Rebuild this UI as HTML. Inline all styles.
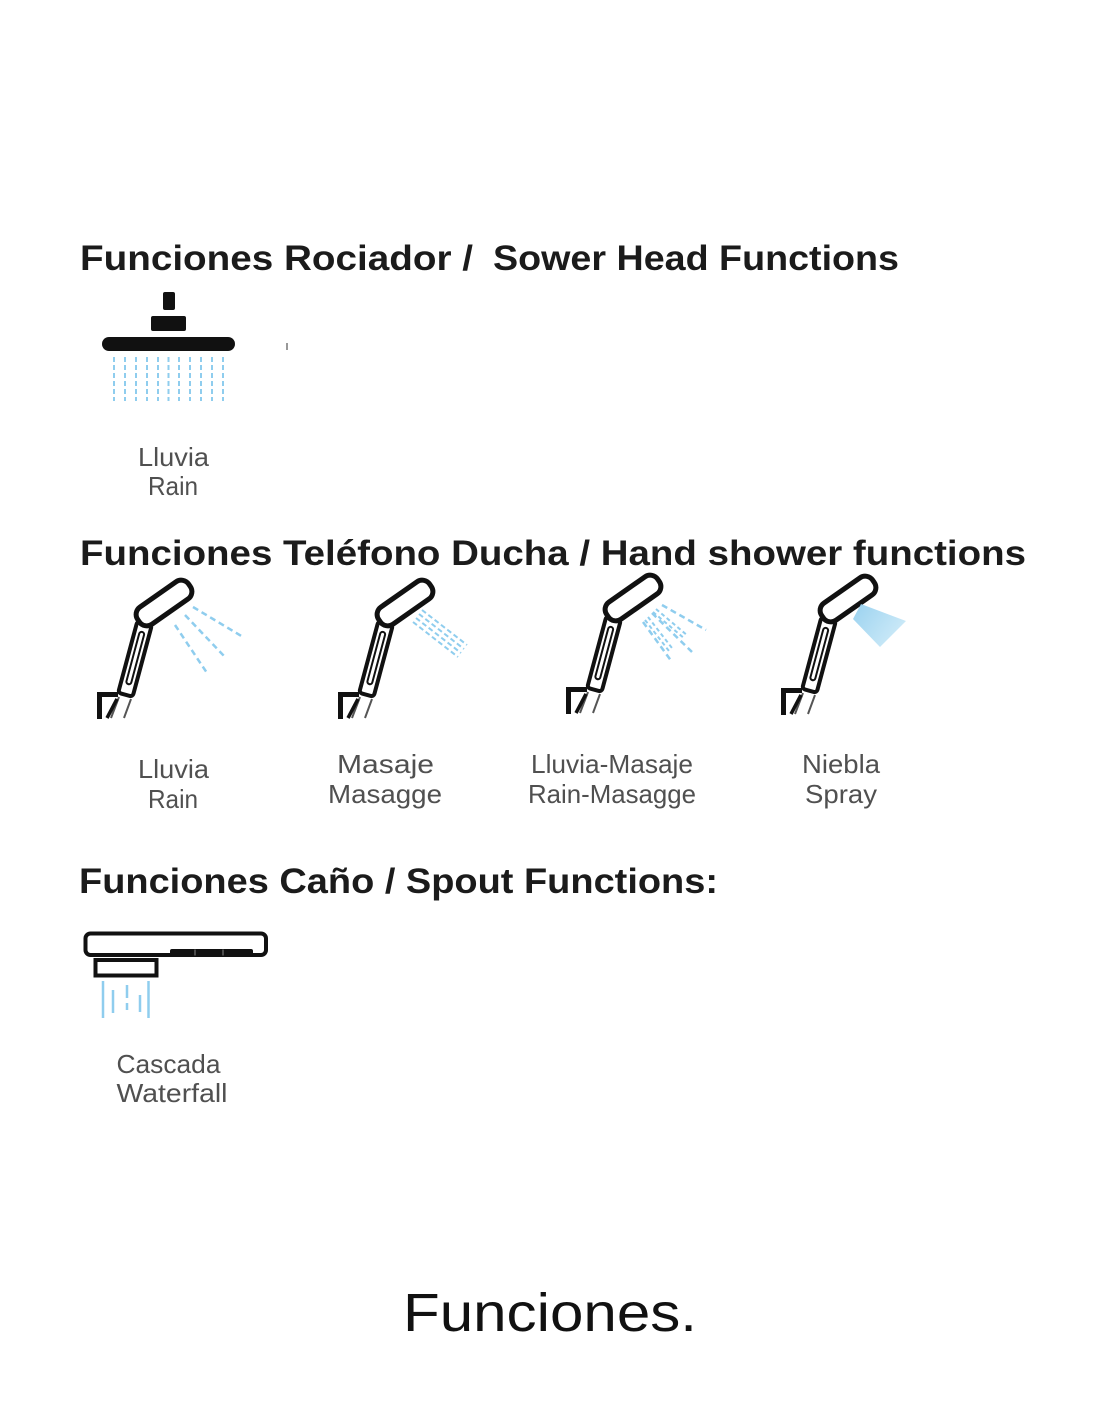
<!DOCTYPE html>
<html>
<head>
<meta charset="utf-8">
<style>
  html,body{margin:0;padding:0;background:#fff;}
  svg{display:block;}
  .h{font-family:"Liberation Sans",Arial,sans-serif;font-weight:bold;font-size:35px;fill:#1b1b1b;}
  .l{font-family:"Liberation Sans",Arial,sans-serif;font-size:26px;fill:#505050;}
  .w{stroke:#8fcdee;fill:none;}
</style>
</head>
<body>
<svg width="1100" height="1422" viewBox="0 0 1100 1422" xmlns="http://www.w3.org/2000/svg">
  <defs>
    <g id="hs">
      <!-- handle -->
      <rect x="-7.5" y="-37" width="15" height="74" rx="3" fill="#fff" stroke="#111" stroke-width="4" transform="translate(135,659) rotate(15)"/>
      <rect x="-2.5" y="-28" width="5" height="54" rx="2.5" fill="none" stroke="#111" stroke-width="2" transform="translate(135,659) rotate(15)"/>
      <!-- head -->
      <rect x="-31" y="-10.5" width="62" height="21" rx="9" fill="#fff" stroke="#111" stroke-width="5" transform="translate(164,603) rotate(-35)"/>
      <!-- lower neck -->
      <path d="M119,697 L111,718 M131,699 L124,718" stroke="#555" stroke-width="2" fill="none"/>
      <!-- bracket -->
      <path d="M99.5,719 V694.5 H118" fill="none" stroke="#111" stroke-width="5"/>
      <path d="M117,699 L107,718" stroke="#111" stroke-width="3.5" fill="none"/>
    </g>
    <linearGradient id="mist" x1="0" y1="0" x2="1" y2="0.6">
      <stop offset="0" stop-color="#8fcdee"/>
      <stop offset="1" stop-color="#c8e8f7"/>
    </linearGradient>
  </defs>

  <!-- Heading 1 -->
  <text class="h" x="80" y="270" textLength="393" lengthAdjust="spacingAndGlyphs">Funciones Rociador /</text>
  <text class="h" x="493" y="270" textLength="406" lengthAdjust="spacingAndGlyphs">Sower Head Functions</text>

  <!-- Shower head -->
  <rect x="163" y="292" width="12" height="18" rx="2" fill="#111"/>
  <rect x="151" y="316" width="35" height="15" rx="2" fill="#111"/>
  <rect x="102" y="337" width="133" height="14" rx="7" fill="#111"/>
  <g class="w" stroke-width="2" stroke-dasharray="5 3" stroke="#a6d8f0">
    <path d="M114,357V401M125,357V401M136,357V401M147,357V401M158,357V401M168.5,357V401M179,357V401M190,357V401M201,357V401M212,357V401M223,357V401"/>
  </g>
  <path d="M287,343V350" stroke="#777" stroke-width="1.5"/>
  <text class="l" x="173.5" y="466" text-anchor="middle" textLength="71" lengthAdjust="spacingAndGlyphs">Lluvia</text>
  <text class="l" x="173" y="495" text-anchor="middle" textLength="50" lengthAdjust="spacingAndGlyphs">Rain</text>

  <!-- Heading 2 -->
  <text class="h" x="80" y="565" textLength="946" lengthAdjust="spacingAndGlyphs">Funciones Teléfono Ducha / Hand shower functions</text>

  <!-- HS1 -->
  <use href="#hs"/>
  <g class="w" stroke-width="2.5" stroke-dasharray="6 4">
    <path d="M193,607 L243,637"/>
    <path d="M185,615 L225,657"/>
    <path d="M175,625 L207,673"/>
  </g>
  <text class="l" x="173.5" y="778" text-anchor="middle" textLength="71" lengthAdjust="spacingAndGlyphs">Lluvia</text>
  <text class="l" x="173" y="808" text-anchor="middle" textLength="50" lengthAdjust="spacingAndGlyphs">Rain</text>

  <!-- HS2 -->
  <use href="#hs" transform="translate(241,0)"/>
  <g class="w" stroke-width="2" stroke-dasharray="5 3">
    <path d="M422,610 L467,645"/>
    <path d="M419,614 L464,649"/>
    <path d="M416,618 L461,653"/>
    <path d="M413,622 L458,657"/>
  </g>
  <text class="l" x="385.5" y="773" text-anchor="middle" textLength="97" lengthAdjust="spacingAndGlyphs">Masaje</text>
  <text class="l" x="385" y="803" text-anchor="middle" textLength="114" lengthAdjust="spacingAndGlyphs">Masagge</text>

  <!-- HS3 -->
  <use href="#hs" transform="translate(469,-5)"/>
  <g class="w" stroke-width="2.5" stroke-dasharray="6 4">
    <path d="M662,605 L706,630"/>
    <path d="M652,613 L692,652"/>
    <path d="M643,622 L672,662"/>
  </g>
  <g class="w" stroke-width="2" stroke-dasharray="4 3">
    <path d="M656,609 L688,636"/>
    <path d="M653,612 L685,639"/>
    <path d="M648,617 L672,648"/>
    <path d="M645,620 L669,651"/>
  </g>
  <text class="l" x="612" y="773" text-anchor="middle" textLength="162" lengthAdjust="spacingAndGlyphs">Lluvia-Masaje</text>
  <text class="l" x="612" y="803" text-anchor="middle" textLength="168" lengthAdjust="spacingAndGlyphs">Rain-Masagge</text>

  <!-- HS4 -->
  <use href="#hs" transform="translate(684,-4)"/>
  <polygon points="861,604 906,621 880,647 853,619" fill="url(#mist)" opacity="0.9"/>
  <text class="l" x="841" y="773" text-anchor="middle" textLength="78" lengthAdjust="spacingAndGlyphs">Niebla</text>
  <text class="l" x="841" y="803" text-anchor="middle" textLength="72" lengthAdjust="spacingAndGlyphs">Spray</text>

  <!-- Heading 3 -->
  <text class="h" x="79" y="893" textLength="639" lengthAdjust="spacingAndGlyphs">Funciones Caño / Spout Functions:</text>

  <!-- Spout -->
  <rect x="85.5" y="933.5" width="180.5" height="21.5" rx="5" fill="none" stroke="#111" stroke-width="4"/>
  <rect x="170" y="949" width="83" height="7" rx="2" fill="#111"/>
  <path d="M195,949.5V955.5M223,949.5V955.5" stroke="#888" stroke-width="1"/>
  <rect x="95.5" y="960" width="61" height="15.5" fill="none" stroke="#111" stroke-width="4"/>
  <g class="w" stroke-width="2.5">
    <path d="M103,981V1018"/>
    <path d="M113,990V1013"/>
    <path d="M127,985V998M127,1003V1010"/>
    <path d="M140,995V1012"/>
    <path d="M148.5,981V1018"/>
  </g>
  <text class="l" x="116.5" y="1073" textLength="104" lengthAdjust="spacingAndGlyphs">Cascada</text>
  <text class="l" x="116.5" y="1102" textLength="111" lengthAdjust="spacingAndGlyphs">Waterfall</text>

  <!-- Caption -->
  <text x="403" y="1331" textLength="294" lengthAdjust="spacingAndGlyphs" style="font-family:'Liberation Sans',Arial,sans-serif;font-size:54px;fill:#111;">Funciones.</text>
</svg>
</body>
</html>
